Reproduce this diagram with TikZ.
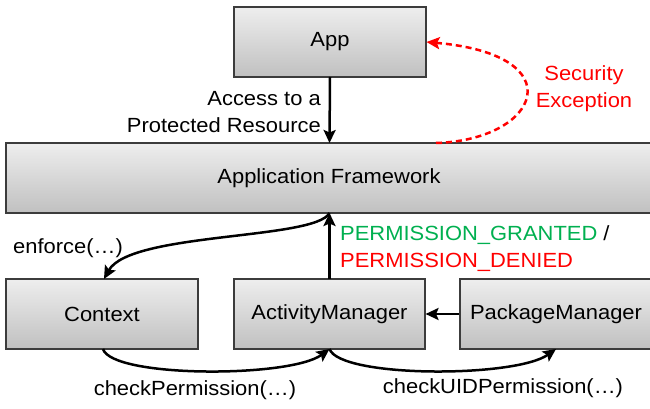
\documentclass[tikz,border=0pt]{standalone}
\usepackage{fontspec}
\setmainfont{Liberation Sans}[FakeStretch=1.07]
\usetikzlibrary{arrows.meta,shadows}
\definecolor{boxtop}{RGB}{238,238,238}
\definecolor{boxbot}{RGB}{192,192,192}
\definecolor{boxline}{RGB}{60,60,60}
\definecolor{okgreen}{RGB}{0,176,80}
\definecolor{errred}{RGB}{255,0,0}
\tikzset{
  comp/.style={draw=boxline, line width=1.1pt, top color=boxtop, bottom color=boxbot,
    minimum height=70pt, inner sep=0pt, font=\fontsize{20.5}{27}\selectfont,
    drop shadow={opacity=0.25, shadow xshift=1.2pt, shadow yshift=-1.2pt}},
  lbl/.style={font=\fontsize{20.5}{27}\selectfont, inner sep=0pt},
  conn/.style={line width=2.5pt, -{Stealth[length=13pt,width=12pt,inset=2.5pt]}},
  exc/.style={conn, draw=errred, dash pattern=on 6pt off 4pt,
    -{Stealth[length=13pt,width=12pt,inset=2.5pt,fill=errred]}}
}
\begin{document}
\begin{tikzpicture}[x=1pt,y=-1pt]
\clip (0,0) rectangle (650,409);
\fill[white] (0,0) rectangle (650,409);
\node[comp, minimum width=192pt] (app) at (330,42) {App};
\node[comp, minimum width=656pt] (fw) at (334,178) {};
\node[lbl] (fwtext) at (329,178) {Application Framework};
\node[comp, minimum width=192pt] (ctx) at (102,314) {Context};
\node[comp, minimum width=191pt] (am) at (329.5,314) {ActivityManager};
\node[comp, minimum width=192pt] (pm) at (556,314) {PackageManager};

\coordinate (fwtop) at (329.5,143);
\coordinate (fwbot) at (329.5,213);
\coordinate (excstart) at (436,143);
\coordinate (ctxtop) at (104,279);
\coordinate (ctxbot) at (103,349);
\coordinate (amtop) at (329.5,279);
\coordinate (ambot) at (329.5,349);
\coordinate (pmbot) at (556,349);

\draw[conn] (app.south |- 0,77) -- (fwtop);
\draw[exc] (excstart) .. controls (540,140) and (575,55) .. (app.east);
\draw[conn] (fwbot) .. controls (315,240) and (130,232) .. (ctxtop);
\draw[conn] (amtop) -- (fwbot);
\draw[conn] (pm.west) -- (am.east);
\draw[conn] (ctxbot) .. controls (112,378) and (290,378) .. (ambot);
\draw[conn] (ambot) .. controls (340,378) and (515,378) .. (pmbot);

\node[lbl, anchor=east, align=right] (acc) at (321,112) {Access to a\\Protected Resource};
\node[lbl, align=center, text=errred] (secx) at (584,89) {Security\\Exception};
\node[lbl, anchor=west] (enf) at (13,248) {enforce(…)};
\node[lbl, anchor=west, align=left] (perm) at (340,249) {\textcolor{okgreen}{PERMISSION\_GRANTED} /\\\textcolor{errred}{PERMISSION\_DENIED}};
\node[lbl] (chk) at (195,390) {checkPermission(…)};
\node[lbl] (chku) at (503,388) {checkUIDPermission(…)};
\end{tikzpicture}
\end{document}
